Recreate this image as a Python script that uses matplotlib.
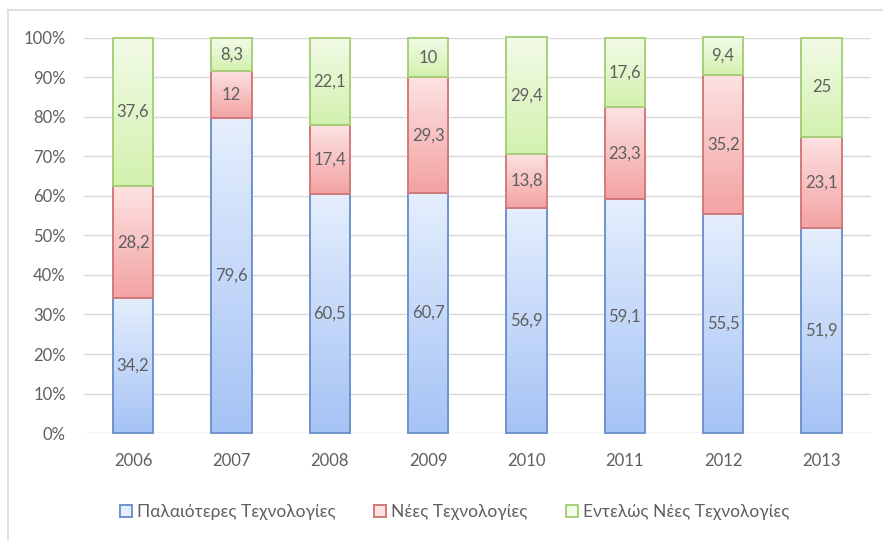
import numpy as np
import matplotlib
matplotlib.use('Agg')
import matplotlib.pyplot as plt
from matplotlib.patches import Patch
from matplotlib.lines import Line2D
from matplotlib.colors import LinearSegmentedColormap

plt.rcParams['font.family'] = ['Lato', 'Noto Sans', 'DejaVu Sans']

years = ['2006', '2007', '2008', '2009', '2010', '2011', '2012', '2013']
old_tech = [34.2, 79.6, 60.5, 60.7, 56.9, 59.1, 55.5, 51.9]
new_tech = [28.2, 12, 17.4, 29.3, 13.8, 23.3, 35.2, 23.1]
very_new_tech = [37.6, 8.3, 22.1, 10, 29.4, 17.6, 9.4, 25]
series_names = ['Παλαιότερες Τεχνολογίες', 'Νέες Τεχνολογίες', 'Εντελώς Νέες Τεχνολογίες']

# (top colour, bottom colour, edge colour)
styles = [('#e4eefd', '#a6c3f5', '#6f93cc'),
          ('#fde2e2', '#f3a3a3', '#d27a7a'),
          ('#f2fbe7', '#d3f1ae', '#a8cf7a')]

TXT = '#5f5f5f'

fig = plt.figure(figsize=(8.83, 5.4), dpi=100)
ax = fig.add_axes([0.095, 0.198, 0.891, 0.732])

x = np.arange(len(years))
bottoms = np.zeros(len(years))
for vals, (ctop, cbot, cedge) in zip([old_tech, new_tech, very_new_tech], styles):
    vals = np.array(vals, dtype=float)
    bars = ax.bar(x, vals, 0.41, bottom=bottoms, facecolor='none',
                  edgecolor=cedge, linewidth=1.4, zorder=3, clip_on=False)
    cmap = LinearSegmentedColormap.from_list('g', [cbot, ctop])
    grad = np.linspace(0, 1, 64).reshape(-1, 1)
    for b, v in zip(bars, vals):
        bx, by, bw, bh = b.get_x(), b.get_y(), b.get_width(), b.get_height()
        ax.imshow(grad, cmap=cmap, aspect='auto', origin='lower',
                  extent=[bx, bx + bw, by, by + bh], zorder=2)
        ax.text(bx + bw / 2, by + bh / 2, f'{v:g}'.replace('.', ','),
                ha='center', va='center', color=TXT, fontsize=12, zorder=4)
    bottoms += vals

ax.set_xlim(-0.5, len(years) - 0.5)
ax.set_ylim(0, 100)
ax.set_yticks(np.arange(0, 101, 10))
ax.set_yticklabels([f'{t}%' for t in range(0, 101, 10)])
ax.set_xticks(x)
ax.set_xticklabels(years)
ax.tick_params(length=0, colors=TXT, labelsize=12)
ax.tick_params(axis='x', pad=14)
ax.tick_params(axis='y', pad=13)
ax.grid(axis='y', color='#d9d9d9', linewidth=1, zorder=0)
ax.set_axisbelow(True)
for s in ax.spines.values():
    s.set_visible(False)

handles = [Patch(facecolor=ctop, edgecolor=cedge, linewidth=1.4)
           for ctop, cbot, cedge in styles]
fig.legend(handles, series_names, loc='center', bbox_to_anchor=(0.515, 0.052),
           ncol=3, frameon=False, fontsize=12.5, labelcolor=TXT,
           handlelength=0.7, handleheight=0.7, handletextpad=0.3, columnspacing=2.2)

# outer chart frame (only left and top edges are visible in the crop)
fig.add_artist(Line2D([0.009, 0.009], [0.0, 0.982], color='#d9d9d9', lw=1.2,
                      transform=fig.transFigure))
fig.add_artist(Line2D([0.009, 1.0], [0.982, 0.982], color='#d9d9d9', lw=1.2,
                      transform=fig.transFigure))

plt.savefig('out.png', dpi=100)
plt.close()
